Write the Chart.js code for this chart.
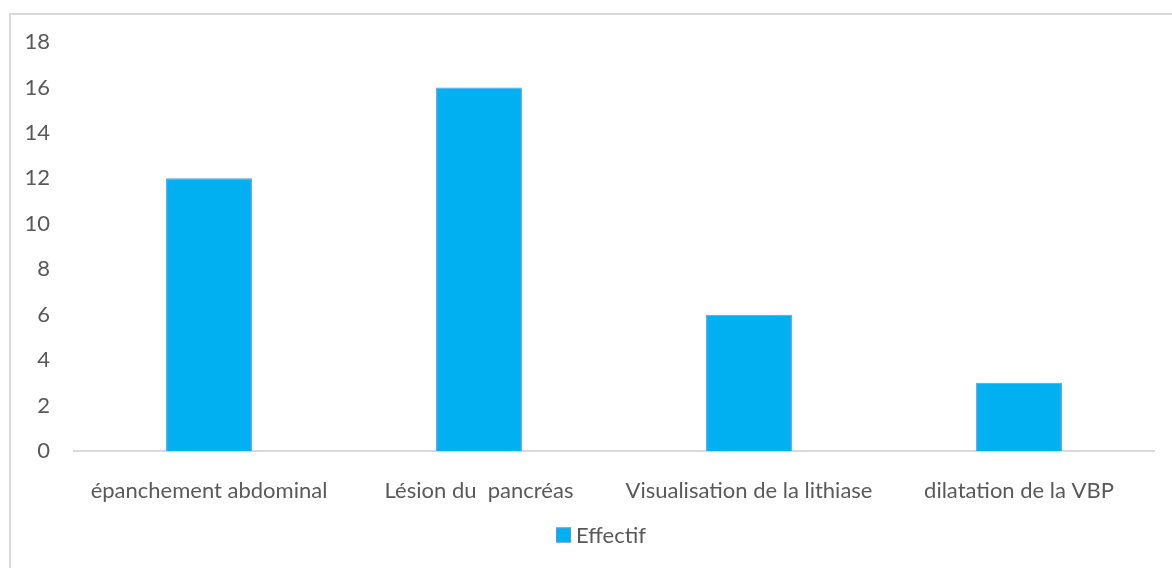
<!DOCTYPE html>
<html>
<head>
<meta charset="utf-8">
<script src="https://cdn.jsdelivr.net/npm/chart.js@4/dist/chart.umd.min.js"></script>
<style>
  html, body { margin: 0; padding: 0; background: #ffffff; }
  #wrap { position: relative; width: 1172px; height: 568px; overflow: hidden; }
  #frame {
    position: absolute; left: 9px; top: 13px; width: 1200px; height: 600px;
    border-left: 2px solid #d9d9d9; border-top: 2px solid #d9d9d9;
  }
  canvas { position: absolute; left: 0; top: 0; }
</style>
</head>
<body>
<div id="wrap">
  <div id="frame"></div>
  <canvas id="chart" width="1172" height="568"></canvas>
</div>
<script>
// Imaging findings and their counts
const categories = ['épanchement abdominal', 'Lésion du  pancréas', 'Visualisation de la lithiase', 'dilatation de la VBP'];
const effectif = [12, 16, 6, 3];
const seriesName = 'Effectif';
const yTicks = [0, 2, 4, 6, 8, 10, 12, 14, 16, 18];

const FONT = 'Lato, "Open Sans", sans-serif';
const TEXT = '#595959';
const SIZE = 22;
const FILL = '#00b0f0';
const EDGE = '#5b9bd5';

// Single-entry legend under the axis labels, box followed closely by the series name
const bottomLegend = {
  id: 'bottomLegend',
  afterDraw(chart) {
    const { ctx, chartArea } = chart;
    const ds = chart.data.datasets[0];
    ctx.save();
    ctx.font = `${SIZE}px ${FONT}`;
    const box = 15, gap = 5;
    const textW = ctx.measureText(ds.label).width;
    const total = box + gap + textW;
    const cx = (chartArea.left + chartArea.right) / 2 - 13;
    const x0 = cx - total / 2;
    const cy = chartArea.bottom + 84;
    ctx.fillStyle = ds.backgroundColor;
    ctx.fillRect(x0, cy - box / 2, box, box);
    ctx.strokeStyle = ds.borderColor;
    ctx.lineWidth = 1;
    ctx.strokeRect(x0 + 0.5, cy - box / 2 + 0.5, box - 1, box - 1);
    ctx.fillStyle = TEXT;
    ctx.textBaseline = 'middle';
    ctx.textAlign = 'left';
    ctx.fillText(ds.label, x0 + box + gap, cy + 1);
    ctx.restore();
  }
};

new Chart(document.getElementById('chart'), {
  type: 'bar',
  data: {
    labels: categories,
    datasets: [{
      label: seriesName,
      data: effectif,
      backgroundColor: FILL,
      borderColor: EDGE,
      borderWidth: 1,
      categoryPercentage: 1,
      barPercentage: 0.318
    }]
  },
  options: {
    responsive: false,
    animation: false,
    layout: { padding: { top: 42, right: 18, bottom: 51, left: 0 } },
    plugins: {
      tooltip: { enabled: false },
      legend: { display: false }
    },
    scales: {
      x: {
        grid: { display: false, drawTicks: false },
        border: { display: true, color: '#d9d9d9', width: 2 },
        ticks: { color: TEXT, font: { family: FONT, size: SIZE }, padding: 27, maxRotation: 0, autoSkip: false },
        afterFit: s => { s.height = 66; }
      },
      y: {
        min: 0,
        max: 18,
        afterBuildTicks: s => { s.ticks = yTicks.map(v => ({ value: v })); },
        grid: { display: false, drawTicks: false },
        border: { display: false },
        ticks: { color: TEXT, font: { family: FONT, size: SIZE }, padding: 24 },
        afterFit: s => { s.width = 74; }
      }
    }
  },
  plugins: [bottomLegend]
});
</script>
</body>
</html>
